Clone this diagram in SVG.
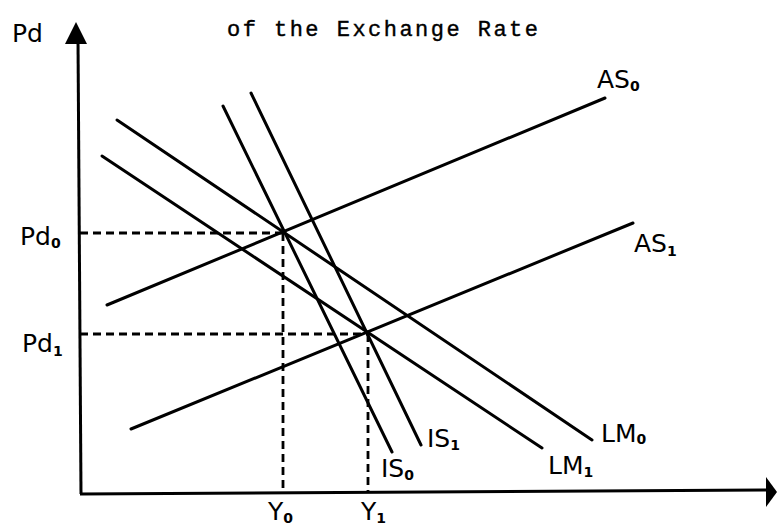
<svg xmlns="http://www.w3.org/2000/svg" width="777" height="528" viewBox="0 0 777 528">
<style>
.ln{stroke:#000;stroke-width:3;fill:none;stroke-linecap:round}
.ax{stroke:#000;stroke-width:3;fill:none}
.ds{stroke:#000;stroke-width:2.8;fill:none;stroke-dasharray:8 5}
.lb{font-family:"DejaVu Sans","Liberation Sans",sans-serif;font-size:25px;fill:#000}
.sb{font-size:14px;font-weight:bold}
.tt{font-family:"Liberation Mono","DejaVu Sans Mono",monospace;font-size:22px;fill:#000;stroke:#000;stroke-width:0.4}
</style>
<rect width="777" height="528" fill="#fff"/>
<text class="tt" x="227" y="36" textLength="311" lengthAdjust="spacing">of the Exchange Rate</text>
<g id="axes">
<line class="ax" x1="78" y1="40" x2="81" y2="494"/>
<polygon points="76,22 65,44 87,44" fill="#000"/>
<line class="ax" x1="80" y1="494" x2="768" y2="490"/>
<polygon points="777,492 766,477 766,507" fill="#000"/>
</g>
<g id="connectors">
<line class="ds" x1="80" y1="233" x2="283" y2="233"/>
<line class="ds" x1="283" y1="233" x2="283" y2="492"/>
<line class="ds" x1="80" y1="334" x2="368" y2="334"/>
<line class="ds" x1="368" y1="334" x2="368" y2="491"/>
</g>
<g id="AS0"><line class="ln" x1="107" y1="305" x2="605" y2="98"/><text class="lb" x="597" y="88">AS<tspan class="sb" dy="3">0</tspan></text></g>
<g id="AS1"><line class="ln" x1="131" y1="429" x2="633" y2="223"/><text class="lb" x="634" y="252">AS<tspan class="sb" dy="4">1</tspan></text></g>
<g id="LM0"><line class="ln" x1="117" y1="120" x2="592" y2="440"/><text class="lb" x="601" y="442">LM<tspan class="sb" dy="2">0</tspan></text></g>
<g id="LM1"><line class="ln" x1="102" y1="156" x2="542" y2="448"/><text class="lb" x="548" y="474">LM<tspan class="sb" dy="3">1</tspan></text></g>
<g id="IS0"><line class="ln" x1="223" y1="106" x2="392" y2="452"/><text class="lb" x="381" y="477">IS<tspan class="sb" dy="3">0</tspan></text></g>
<g id="IS1"><line class="ln" x1="251" y1="93" x2="421" y2="445"/><text class="lb" x="427" y="447">IS<tspan class="sb" dy="3">1</tspan></text></g>
<g id="Pd"><text class="lb" x="12" y="42" font-size="28">Pd</text></g>
<g id="Pd0"><text class="lb" x="20" y="245">Pd<tspan class="sb" dy="3">0</tspan></text></g>
<g id="Pd1"><text class="lb" x="22" y="352">Pd<tspan class="sb" dy="4">1</tspan></text></g>
<g id="Y0"><text class="lb" x="268" y="520">Y<tspan class="sb" dy="3">0</tspan></text></g>
<g id="Y1"><text class="lb" x="361" y="520">Y<tspan class="sb" dy="3">1</tspan></text></g>
</svg>
